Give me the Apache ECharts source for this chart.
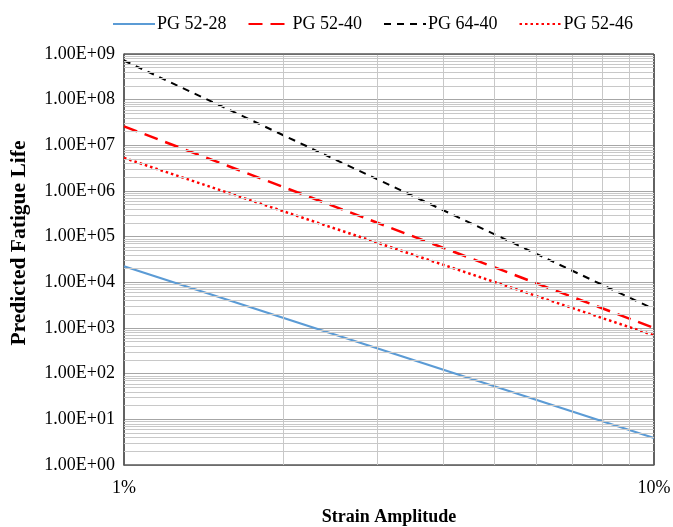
<!DOCTYPE html>
<html>
<head>
<meta charset="utf-8">
<script src="https://cdn.jsdelivr.net/npm/echarts@6/dist/echarts.min.js"></script>
<style>html,body{margin:0;padding:0;background:#fff}#c{width:673px;height:527px}</style>
</head>
<body>
<div id="c"></div>
<script>
var strain = [0.01, 0.1];
var pg5228 = [22500, 3.9];
var pg5240 = [26000000, 1000];
var pg6440 = [720000000, 2600];
var pg5246 = [5300000, 690];
var seriesNames = ['PG 52-28', 'PG 52-40', 'PG 64-40', 'PG 52-46'];
var xMinor = [0.02, 0.03, 0.04, 0.05, 0.06, 0.07, 0.08, 0.09];
var yMinorMult = [2, 3, 4, 5, 6, 7, 8, 9];
var yDecades = [0, 1, 2, 3, 4, 5, 6, 7, 8];

function pairs(ys) { return strain.map(function (x, i) { return [x, ys[i]]; }); }
var minorLines = [];
xMinor.forEach(function (v) { minorLines.push({ xAxis: v }); });
yDecades.forEach(function (d) {
  yMinorMult.forEach(function (m) { minorLines.push({ yAxis: m * Math.pow(10, d) }); });
});
minorLines.push({ yAxis: 1e9, lineStyle: { color: '#595959', width: 1.5 } });

var font = 'Liberation Serif';
var chart = echarts.init(document.getElementById('c'));
chart.setOption({
  animation: false,
  textStyle: { fontFamily: font },
  legend: {
    data: seriesNames,
    left: 107, top: 10,
    itemWidth: 42, itemHeight: 18, itemGap: 21,
    itemStyle: { opacity: 0 },
    textStyle: { fontFamily: font, fontSize: 18, color: '#000', padding: [0, 0, 0, -3] }
  },
  graphic: [{
    type: 'text', x: 19, y: 243, rotation: Math.PI / 2,
    style: { text: 'Predicted Fatigue Life', font: 'bold 21.5px "Liberation Serif"', fill: '#000',
      align: 'center', verticalAlign: 'middle' }
  }],
  grid: { left: 124, right: 19, top: 54, bottom: 62, containLabel: false, outerBoundsMode: 'none', show: false },
  xAxis: {
    type: 'log', logBase: 10, min: 0.01, max: 0.1,
    name: 'Strain Amplitude', nameLocation: 'middle', nameGap: 43,
    nameTextStyle: { fontFamily: font, fontSize: 18, fontWeight: 'bold', color: '#000' },
    axisLine: { show: true, lineStyle: { color: '#595959', width: 1.5 } },
    axisTick: { show: false },
    axisLabel: { fontFamily: font, fontSize: 18, color: '#000', margin: 14,
      formatter: function (v) { return Math.round(v * 100) + '%'; } },
    splitLine: { show: true, lineStyle: { color: '#595959', width: 1.5 } }
  },
  yAxis: {
    type: 'log', logBase: 10, min: 1, max: 1e9,
    axisLine: { show: true, lineStyle: { color: '#595959', width: 1.5 } },
    axisTick: { show: false },
    axisLabel: { fontFamily: font, fontSize: 18, color: '#000', margin: 9,
      formatter: function (v) {
        var e = Math.round(Math.log10(v));
        return '1.00E+' + (e < 10 ? '0' + e : e);
      } },
    splitLine: { show: true, lineStyle: { color: '#A6A6A6', width: 1 } }
  },
  series: [
    { type: 'line', name: 'grid-minor', data: [], z: 1, silent: true,
      markLine: { silent: true, symbol: 'none', label: { show: false },
        lineStyle: { color: '#C8C8C8', width: 1, type: 'solid' },
        emphasis: { disabled: true }, animation: false, data: minorLines } },
    { type: 'line', name: 'PG 52-28', data: pairs(pg5228), showSymbol: false, symbol: 'none',
      lineStyle: { color: '#5B9BD5', width: 2.2, type: 'solid' }, itemStyle: { color: '#5B9BD5' } },
    { type: 'line', name: 'PG 52-40', data: pairs(pg5240), showSymbol: false, symbol: 'none',
      lineStyle: { color: '#FF0000', width: 2.5, type: [14, 8] }, itemStyle: { color: '#FF0000' } },
    { type: 'line', name: 'PG 64-40', data: pairs(pg6440), showSymbol: false, symbol: 'none',
      lineStyle: { color: '#000000', width: 2, type: [7, 6] }, itemStyle: { color: '#000000' } },
    { type: 'line', name: 'PG 52-46', data: pairs(pg5246), showSymbol: false, symbol: 'none',
      lineStyle: { color: '#FF0000', width: 2.5, type: [2.5, 3] }, itemStyle: { color: '#FF0000' } }
  ]
});
</script>
</body>
</html>
